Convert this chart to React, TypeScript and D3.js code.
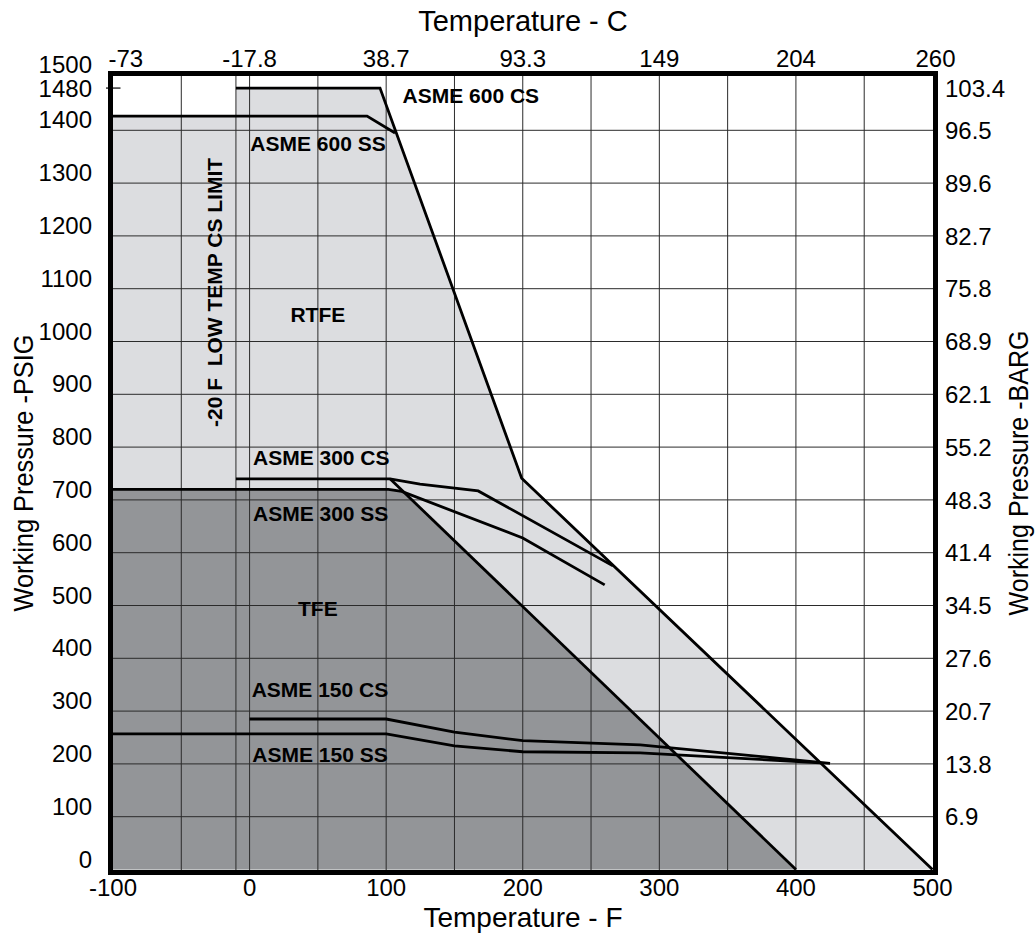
import React from "react";
import * as d3 from "d3";

type Pt = [number, number];

// ---- axes / ticks ----
const fTicks = [-100, 0, 100, 200, 300, 400, 500];
const cTickLabels = ["-73", "-17.8", "38.7", "93.3", "149", "204", "260"];
const fGrid = [-50, 0, 50, 100, 150, 200, 250, 300, 350, 400, 450];
const csLimitF = -10;
const psiLabels = [0, 100, 200, 300, 400, 500, 600, 700, 800, 900, 1000, 1100, 1200, 1300, 1400, 1480, 1500];
const psiGrid = [100, 200, 300, 400, 500, 600, 700, 800, 900, 1000, 1100, 1200, 1300, 1400];
const barPsi = [100, 200, 300, 400, 500, 600, 700, 800, 900, 1000, 1100, 1200, 1300, 1400, 1480];
const barLabels = ["6.9", "13.8", "20.7", "27.6", "34.5", "41.4", "48.3", "55.2", "62.1", "68.9", "75.8", "82.7", "89.6", "96.5", "103.4"];

// ---- regions (temperature F, pressure psig) ----
const rtfeRegion: Pt[] = [[-100, 0], [-100, 1427], [-10, 1427], [-10, 1480], [95.5, 1480], [199.2, 741], [500, 0]];
const tfeRegion: Pt[] = [[-100, 0], [-100, 720], [101.6, 720], [111.4, 716], [113.2, 714], [400, 0]];

// ---- rating lines ----
const asme600CS: Pt[] = [[-10, 1480], [95.5, 1480], [199.2, 741], [500, 0]];
const asme600SS: Pt[] = [[-100, 1427], [86, 1427], [106.5, 1395]];
const asme300CS: Pt[] = [[-10, 740], [102.8, 740], [124.8, 730], [167.4, 717], [266, 575]];
const asme300SS: Pt[] = [[-100, 720], [101.6, 720], [111.4, 716], [200, 628], [260, 539]];
const tfeLimit: Pt[] = [[102.8, 740], [400, 0]];
const asme150CS: Pt[] = [[0, 285], [100, 285], [150, 260], [200, 244], [286, 236], [425, 201]];
const asme150SS: Pt[] = [[-100, 257], [100, 257], [150, 234], [200, 223], [286, 221], [418, 202]];

// ---- annotations: [text, F, psi, anchor] ----
const annotations: [string, number, number, string][] = [
  ["ASME 600 CS", 112, 1451, "start"],
  ["ASME 600 SS", 0.5, 1361, "start"],
  ["RTFE", 50, 1037, "middle"],
  ["ASME 300 CS", 2.5, 766, "start"],
  ["ASME 300 SS", 2.5, 660, "start"],
  ["TFE", 50, 480, "middle"],
  ["ASME 150 CS", 1.5, 327, "start"],
  ["ASME 150 SS", 2, 204, "start"],
];
const limitLabel = "-20 F  LOW TEMP CS LIMIT";
const limitLabelAt: Pt = [-20.2, 838];

const FONT = "'Liberation Sans', Arial, Helvetica, sans-serif";

export default function App() {
  const W = 1036;
  const H = 934;
  const x = d3.scaleLinear().domain([-100, 500]).range([113, 932.5]);
  const y = d3.scaleLinear().domain([0, 1500]).range([869.5, 77.5]);
  const line = d3
    .line<Pt>()
    .x((d) => x(d[0]))
    .y((d) => y(d[1]));
  const poly = (pts: Pt[]) => (line(pts) || "") + "Z";

  const fl = x(-100) - 2.5;
  const fr = x(500) + 3;
  const ft = y(1500) - 4;
  const fb = y(0) + 3;

  const ratingLines = [asme600CS, asme600SS, asme300CS, asme300SS, tfeLimit, asme150CS, asme150SS];

  return (
    <svg
      width={W}
      height={H}
      viewBox={`0 0 ${W} ${H}`}
      style={{ position: "absolute", left: 0, top: 0, display: "block", background: "#fff" }}
      fontFamily={FONT}
    >
      <rect x={0} y={0} width={W} height={H} fill="#fff" />
      {/* fills */}
      <path d={poly(rtfeRegion)} fill="#dcdde0" />
      <path d={poly(tfeRegion)} fill="#939598" />

      {/* grid */}
      <g stroke="#2b2b2b" strokeWidth={1}>
        {psiGrid.map((p) => (
          <line key={"h" + p} x1={fl} x2={fr} y1={y(p)} y2={y(p)} />
        ))}
        {fGrid.map((f) => (
          <line key={"v" + f} x1={x(f)} x2={x(f)} y1={ft} y2={fb} />
        ))}
        <line x1={x(csLimitF)} x2={x(csLimitF)} y1={ft} y2={fb} />
      </g>

      {/* rating lines */}
      <g fill="none" stroke="#000" strokeWidth={2.8} strokeLinejoin="miter">
        {ratingLines.map((l, i) => (
          <path key={i} d={line(l) || ""} />
        ))}
      </g>

      {/* frame */}
      <rect x={fl} y={ft} width={fr - fl} height={fb - ft} fill="none" stroke="#000" strokeWidth={5} />
      <line x1={fl - 4.5} x2={fl + 10} y1={y(1480)} y2={y(1480)} stroke="#000" strokeWidth={1.2} />

      {/* left psi labels */}
      <g fontSize={24} textAnchor="end" fill="#000">
        {psiLabels.map((p) => (
          <text key={p} x={92} y={y(p) + (p === 1480 ? 9 : p === 1500 ? -5 : -2)}>
            {p}
          </text>
        ))}
      </g>

      {/* right bar labels */}
      <g fontSize={24} textAnchor="start" fill="#000">
        {barPsi.map((p, i) => (
          <text key={p} x={945} y={y(p)} dy="0.36em">
            {barLabels[i]}
          </text>
        ))}
      </g>

      {/* bottom F labels */}
      <g fontSize={24} textAnchor="middle" fill="#000">
        {fTicks.map((f) => (
          <text key={f} x={x(f)} y={896}>
            {f}
          </text>
        ))}
      </g>

      {/* top C labels */}
      <g fontSize={24} fill="#000">
        {fTicks.map((f, i) => (
          <text
            key={f}
            x={i === 0 ? fl - 2 : x(f) + (i === fTicks.length - 1 ? 3 : 0)}
            y={66.5}
            textAnchor={i === 0 ? "start" : "middle"}
          >
            {cTickLabels[i]}
          </text>
        ))}
      </g>

      {/* axis titles */}
      <text x={(fl + fr) / 2} y={31} fontSize={29} textAnchor="middle">
        Temperature - C
      </text>
      <text x={(fl + fr) / 2} y={927} fontSize={28} textAnchor="middle">
        Temperature - F
      </text>
      <text
        transform={`translate(33,${(ft + fb) / 2}) rotate(-90)`}
        fontSize={27}
        textAnchor="middle"
        textLength={277}
        lengthAdjust="spacingAndGlyphs"
      >
        Working Pressure -PSIG
      </text>
      <text
        transform={`translate(1028,${(ft + fb) / 2}) rotate(-90)`}
        fontSize={27}
        textAnchor="middle"
        textLength={285}
        lengthAdjust="spacingAndGlyphs"
      >
        Working Pressure -BARG
      </text>

      {/* annotations */}
      <g fontSize={21} fontWeight="bold" fill="#000">
        {annotations.map(([t, f, p, a]) => (
          <text key={t} x={x(f)} y={y(p)} textAnchor={a}>
            {t}
          </text>
        ))}
        <text
          transform={`translate(${x(limitLabelAt[0])},${y(limitLabelAt[1])}) rotate(-90)`}
          textAnchor="start"
          style={{ whiteSpace: "pre" }}
        >
          {limitLabel}
        </text>
      </g>
    </svg>
  );
}
